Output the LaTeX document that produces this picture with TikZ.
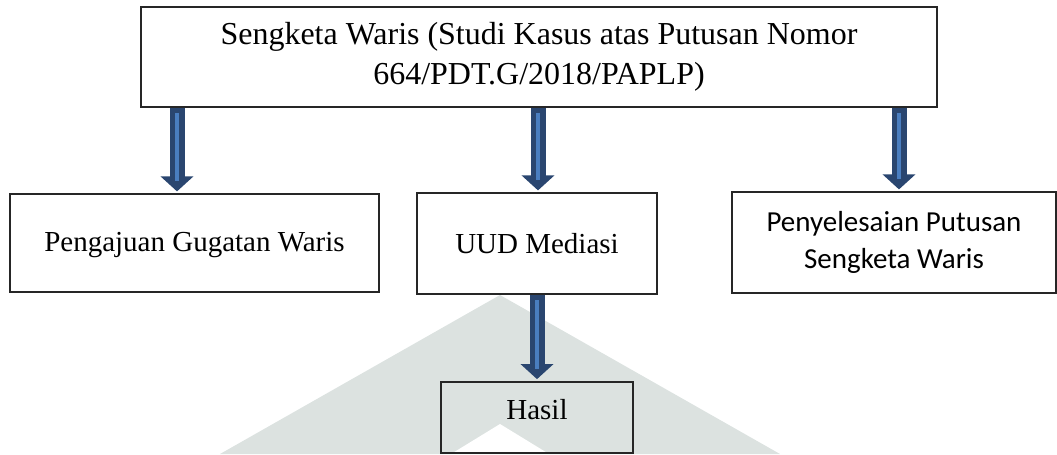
\documentclass[tikz,border=0pt]{standalone}
\usepackage{fontspec}
\setmainfont{Liberation Serif}
\newfontfamily\calibrifont{Carlito}
\usetikzlibrary{arrows.meta,positioning}
\definecolor{arrowdark}{HTML}{2A4670}
\definecolor{arrowlight}{HTML}{4A7EC0}
\definecolor{watermark}{HTML}{DCE2E0}
\tikzset{
  box/.style = {
    draw=black!85,
    line width=0.7pt,
    align=center,
    inner sep=0pt,
    font=\fontsize{16.5}{22.8}\selectfont
  },
  blockarrow/.style = {
    -{Triangle[width=0.64cm,length=0.3cm]},
    line width=0.3cm,
    draw=arrowdark,
    shorten >=0.04cm
  },
  blockinner/.style = {
    line width=0.066cm,
    draw=arrowlight,
    shorten <=0.11cm,
    shorten >=0.24cm
  }
}
\begin{document}
\begin{tikzpicture}[x=0.02cm,y=-0.02cm]
    \useasboundingbox (0,0) rectangle (1057,454);

    % faint background mark
    \fill[watermark] (500,295) -- (780,454) -- (220,454) -- cycle;
    \fill[white] (500,424) -- (549,454) -- (451,454) -- cycle;

    \node[box, minimum width=15.92cm, minimum height=2cm,
          font=\fontsize{18.2}{22.8}\selectfont] (kasus) at (539,57)
      {Sengketa Waris (Studi Kasus atas Putusan Nomor\\664/PDT.G/2018/PAPLP)};
    \node[box, minimum width=7.38cm, minimum height=1.96cm,
          text height=0.46cm] (gugatan) at (194.5,243)
      {Pengajuan Gugatan Waris};
    \node[box, minimum width=4.8cm, minimum height=2.02cm] (mediasi) at (537,243.5)
      {UUD Mediasi};
    \node[box, minimum width=6.48cm, minimum height=2.02cm,
          font=\calibrifont\fontsize{16.5}{21}\selectfont] (putusan) at (894,242.5)
      {Penyelesaian Putusan\\Sengketa Waris};
    \node[box, line width=1pt, minimum width=3.84cm, minimum height=1.42cm,
          text depth=0.32cm] (hasil) at (537,417.5) {Hasil};

    \coordinate (a1) at (177,0);
    \coordinate (a2) at (538,0);
    \coordinate (a3) at (899,0);

    \foreach \a/\b in {a1/gugatan, a2/mediasi, a3/putusan} {
      \draw[blockarrow] (kasus.south -| \a) -- (\b.north -| \a);
      \draw[blockinner] (kasus.south -| \a) -- (\b.north -| \a);
    }
    \draw[blockarrow] (mediasi.south) -- (hasil.north);
    \draw[blockinner] (mediasi.south) -- (hasil.north);
\end{tikzpicture}
\end{document}
